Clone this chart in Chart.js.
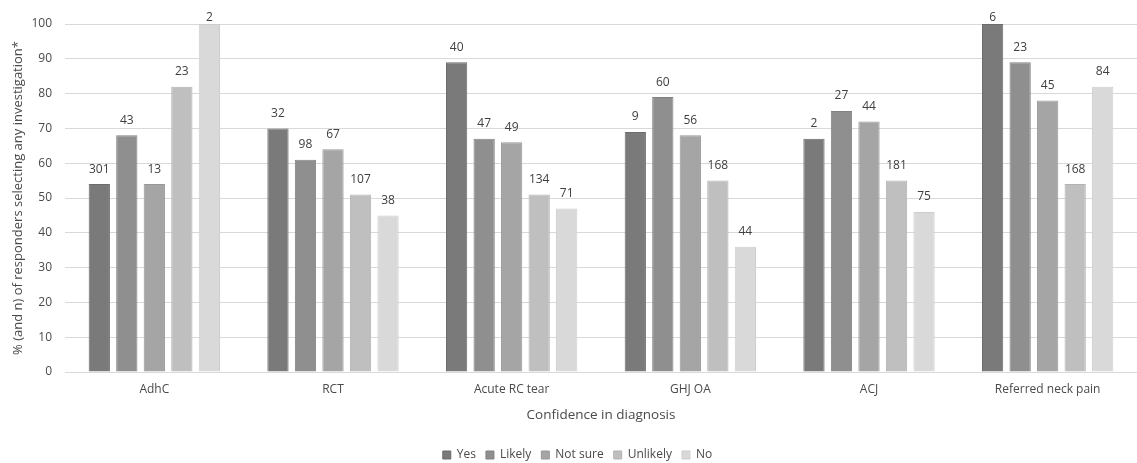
<!DOCTYPE html>
<html>
<head>
<meta charset="utf-8">
<script src="https://cdn.jsdelivr.net/npm/chart.js@4/dist/chart.umd.min.js"></script>
<style>
html,body{margin:0;padding:0;background:#fff;overflow:hidden;}
#wrap{width:1137px;height:463px;}
</style>
</head>
<body>
<div id="wrap"><canvas id="c" width="1137" height="463"></canvas></div>
<script>
const categories = ["AdhC", "RCT", "Acute RC tear", "GHJ OA", "ACJ", "Referred neck pain"];
const seriesNames = ["Yes", "Likely", "Not sure", "Unlikely", "No"];
const yesPct = [54, 70, 89, 69, 67, 100];
const likelyPct = [68, 61, 67, 79, 75, 89];
const notSurePct = [54, 64, 66, 68, 72, 78];
const unlikelyPct = [82, 51, 51, 55, 55, 54];
const noPct = [100, 45, 47, 36, 46, 82];
const yesN = [301, 32, 40, 9, 2, 6];
const likelyN = [43, 98, 47, 60, 27, 23];
const notSureN = [13, 67, 49, 56, 44, 45];
const unlikelyN = [23, 107, 134, 168, 181, 168];
const noN = [2, 38, 71, 44, 75, 84];
const yTicks = [0, 10, 20, 30, 40, 50, 60, 70, 80, 90, 100];

const colors = ["#7a7a7a", "#8f8f8f", "#a5a5a5", "#bfbfbf", "#d9d9d9"];
const borders = ["#6c6c6c", "#828282", "#989898", "#b3b3b3", "#cdcdcd"];
const values = [yesPct, likelyPct, notSurePct, unlikelyPct, noPct];
const counts = [yesN, likelyN, notSureN, unlikelyN, noN];

const font = "'Open Sans', 'Noto Sans', sans-serif";
const textColor = "#4a4a4a";

const labelPlugin = {
  id: 'barLabels',
  beforeLayout(chart) {
    const lg = chart.legend;
    if (lg && !lg._patchedFit) {
      const orig = lg.fit;
      lg.fit = function () { orig.call(this); this.height = 24; };
      lg._patchedFit = true;
    }
  },
  afterDatasetsDraw(chart) {
    const ctx = chart.ctx;
    const minY = chart.chartArea.top - 6;
    ctx.save();
    ctx.font = "12px " + font;
    ctx.fillStyle = "#404040";
    ctx.textAlign = "center";
    ctx.textBaseline = "middle";
    chart.data.datasets.forEach((ds, i) => {
      const meta = chart.getDatasetMeta(i);
      meta.data.forEach((bar, j) => {
        ctx.fillText(String(counts[i][j]), bar.x, Math.max(bar.y - 15, minY));
      });
    });
    ctx.restore();
  }
};

new Chart(document.getElementById('c'), {
  type: 'bar',
  data: {
    labels: categories,
    datasets: seriesNames.map((name, i) => ({
      label: name,
      data: values[i],
      backgroundColor: colors[i],
      borderColor: borders[i],
      borderWidth: 1,
      categoryPercentage: 0.77,
      barPercentage: 0.773
    }))
  },
  options: {
    responsive: false,
    animation: false,
    layout: { padding: { top: 24, right: -8, left: 10, bottom: 0 } },
    plugins: {
      legend: {
        position: 'bottom',
        labels: {
          boxWidth: 8, boxHeight: 8, padding: 10,
          color: textColor,
          font: { family: font, size: 12 }
        }
      },
      tooltip: { enabled: false }
    },
    scales: {
      x: {
        afterFit: (s) => { s.height = 67; },
        grid: { display: false, drawTicks: false },
        border: { display: true, color: "#d9d9d9", width: 1 },
        ticks: { color: textColor, font: { family: font, size: 12 }, padding: 10 },
        title: { display: true, text: "Confidence in diagnosis", color: textColor, font: { family: font, size: 13.5 }, padding: { top: 0, bottom: 16 } }
      },
      y: {
        min: 0, max: 100,
        afterFit: (s) => { s.width = 55; },
        afterBuildTicks: (axis) => { axis.ticks = yTicks.map(v => ({ value: v })); },
        grid: { color: "#d9d9d9", drawTicks: false },
        border: { display: false },
        ticks: { color: textColor, font: { family: font, size: 12 }, padding: 13 },
        title: { display: true, text: "% (and n) of responders selecting any investigation*", color: textColor, font: { family: font, size: 13 }, padding: { top: 0, bottom: 0 } }
      }
    }
  },
  plugins: [labelPlugin]
});
</script>
</body>
</html>
